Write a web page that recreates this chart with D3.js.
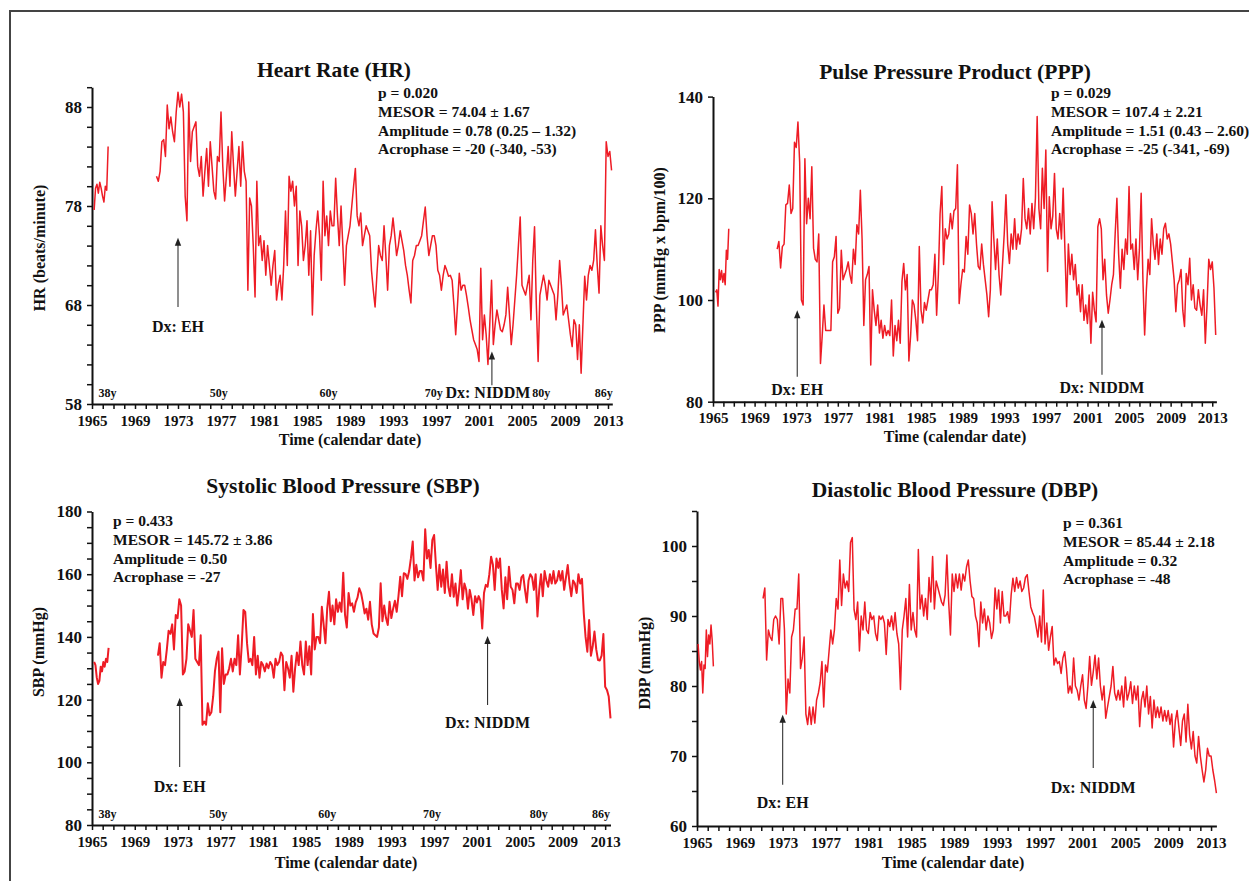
<!DOCTYPE html>
<html>
<head>
<meta charset="utf-8">
<script src="https://cdn.jsdelivr.net/npm/d3@7"></script>
<style>
  body { margin: 0; background: #fff; }
  svg text { font-family: "Liberation Serif", "Times New Roman", serif; font-weight: bold; fill: #111; }
</style>
</head>
<body>
<svg id="chart" width="1249" height="881"></svg>
<script>
// ---- data (roughly bimonthly) ----
const yearTicks = d3.range(1965, 2014);
const ageLabels = ["38y", "50y", "60y", "70y", "80y", "86y"];
const ageYears = [1965.6, 1976.8, 1987, 1996.8, 2006.8, 2012.6];

// heart rate, beats/minute (main series starts 1971.0, 6 per year)
const hrEarly = [77.6, 79.8, 80.2, 79.3, 80.4, 79.8, 79.0, 78.4, 80.0, 79.6, 84.0];
const hrMain = [
  81.0, 80.5, 81.5, 84.5, 84.7, 83.0,
  88.2, 85.8, 87.0, 85.5, 84.5, 87.5,
  89.5, 88.0, 89.3, 87.5, 79.0, 76.5,
  88.5, 82.5, 85.5, 86.0, 86.5, 82.0,
  81.0, 83.0, 79.0, 81.5, 83.8, 80.0,
  84.5, 82.0, 79.5, 78.7, 83.0, 82.5,
  87.5, 82.0, 78.5, 81.0, 84.0, 80.0,
  85.5, 82.0, 79.0, 81.5, 84.0, 80.0,
  84.5, 81.5, 80.5, 69.5, 78.8, 78.0,
  74.0, 68.8, 80.5, 74.0, 75.0, 72.5,
  74.5, 71.0, 74.0, 72.0, 70.0, 72.0,
  73.5, 68.5, 70.0, 71.0, 68.5, 72.0,
  77.5, 72.0, 81.0, 79.5, 80.5, 78.0,
  80.0, 72.0, 77.5, 76.0, 72.5, 74.0,
  76.5, 71.0, 75.5, 67.0, 73.0, 75.5,
  77.5, 75.0, 70.5, 80.5, 75.0, 77.0,
  74.0, 77.5, 76.0, 76.0, 80.8, 77.0,
  74.0, 78.0, 74.0, 70.0, 74.0, 75.0,
  76.0, 78.0, 80.0, 81.8, 77.0, 76.0,
  77.3, 74.0, 75.0, 76.0, 75.5, 75.0,
  71.5, 69.5, 67.8, 71.0, 74.0, 73.0,
  72.5, 76.0, 73.0, 69.5, 74.0, 75.0,
  76.8, 75.0, 73.0, 74.0, 75.5, 74.5,
  73.5, 72.0, 71.0, 69.5, 68.2, 72.5,
  73.0, 74.0, 74.0, 74.5, 75.0, 76.5,
  77.9, 75.0, 73.0, 74.0, 75.0, 75.0,
  74.0, 71.5, 71.0, 69.5, 71.0, 72.0,
  71.5, 70.9, 71.0, 70.5, 68.0, 65.0,
  68.0, 71.2, 69.5, 70.0, 70.0, 69.0,
  67.8, 66.5, 65.5, 64.5, 64.0, 63.5,
  62.3, 71.7, 64.5, 67.0, 65.0, 62.0,
  66.0, 70.5, 64.0, 66.0, 67.5, 66.5,
  65.5, 65.3, 66.0, 67.0, 69.8, 67.0,
  64.0, 66.0, 68.5, 71.0, 74.0, 76.9,
  70.0, 69.5, 69.0, 70.0, 71.0, 66.5,
  72.5, 75.9, 68.0, 62.3, 69.0, 70.0,
  71.0, 70.0, 68.5, 70.5, 70.0, 69.5,
  69.0, 66.5, 69.0, 72.5, 70.0, 67.0,
  67.5, 68.0, 66.5, 65.0, 63.8, 66.5,
  66.0, 62.5, 66.0, 61.1, 66.0, 70.9,
  68.5, 71.0, 72.0, 71.5, 72.5, 75.6,
  72.0, 69.2, 76.0, 74.0, 72.5, 84.5,
  83.0, 83.5, 81.6
];

// pulse pressure product, mmHg x bpm/100 (main series starts 1971.167)
const pppEarly = [101.5, 102.0, 98.8, 106.0, 104.0, 105.8, 103.5, 105.2, 103.0, 109.8, 108.0, 114.0];
const pppMain = [
  110.0, 111.5, 106.3, 110.5, 111.0,
  118.7, 119.0, 122.6, 117.0, 118.0, 131.0,
  130.0, 135.0, 127.0, 100.0, 99.0, 127.8,
  115.0, 120.0, 116.0, 126.2, 110.2, 108.0,
  107.5, 113.0, 87.5, 93.0, 99.0, 94.0,
  94.0, 94.0, 94.0, 107.5, 108.5, 112.5,
  97.4, 98.4, 109.8, 104.0, 105.0, 106.0,
  107.5, 105.0, 103.3, 110.0, 107.0, 114.8,
  113.0, 121.6, 112.0, 95.0, 104.0, 105.0,
  106.6, 87.2, 102.0, 98.0, 95.0, 99.0,
  93.5, 96.0, 92.5, 95.0, 93.0, 94.0,
  93.0, 100.0, 89.0, 95.0, 92.0, 96.0,
  91.5, 103.6, 107.2, 102.0, 105.0, 88.0,
  93.0, 100.0, 99.0, 96.0, 92.0, 110.5,
  98.0, 95.5, 99.5, 98.0, 100.0, 102.0,
  102.0, 103.0, 109.0, 97.0, 105.0, 117.0,
  122.3, 107.0, 114.0, 112.0, 113.0, 117.0,
  114.0, 117.5, 118.0, 126.6, 99.3, 103.0,
  106.0, 105.5, 112.5, 109.0, 118.7, 117.0,
  113.0, 117.0, 111.0, 106.6, 106.0, 111.0,
  107.0, 104.0, 101.0, 96.7, 102.0, 119.3,
  112.0, 106.0, 112.0, 105.0, 101.0, 107.0,
  113.0, 120.7, 111.0, 107.2, 113.0, 110.0,
  116.0, 110.0, 113.0, 111.0, 114.0, 123.9,
  116.0, 114.0, 118.0, 113.0, 119.0, 114.0,
  120.0, 136.1, 118.0, 114.0, 125.9, 118.0,
  129.5, 105.6, 120.3, 114.0, 116.5, 124.9,
  114.0, 112.0, 117.0, 112.0, 122.0, 110.0,
  98.7, 111.0, 105.0, 109.0, 104.0, 107.0,
  101.0, 103.0, 97.7, 103.0, 96.0, 99.0,
  95.4, 101.0, 91.5, 101.5, 98.0, 95.7,
  114.4, 116.0, 114.0, 104.0, 108.0, 101.0,
  97.4, 100.0, 103.0, 105.0, 113.0, 120.0,
  109.0, 102.3, 110.0, 106.0, 112.0, 109.0,
  122.3, 110.0, 111.0, 106.0, 112.0, 104.0,
  110.0, 121.0, 104.0, 93.1, 102.0, 108.0,
  105.0, 116.0, 111.0, 108.0, 113.0, 107.0,
  112.0, 109.0, 114.0, 115.1, 112.0, 113.0,
  111.0, 107.5, 104.0, 97.7, 103.0, 104.0,
  106.0, 98.0, 94.8, 105.2, 103.0, 108.2,
  100.0, 103.0, 98.4, 98.0, 102.0, 99.0,
  97.0, 102.0, 91.5, 99.0, 108.0, 106.0,
  107.5, 102.3, 93.1
];

// systolic blood pressure, mmHg (main series starts 1971.167)
const sbpEarly = [132.0, 131.0, 127.0, 125.0, 126.0, 130.5, 129.0, 132.0, 130.5, 133.0, 132.0, 136.5];
const sbpMain = [
  134.0, 138.0, 127.0, 132.0, 131.0,
  136.0, 142.0, 141.0, 144.0, 136.0, 147.0,
  146.0, 152.0, 150.0, 128.0, 129.0, 133.0,
  144.0, 142.0, 140.0, 148.6, 133.0, 132.0,
  131.0, 140.5, 112.0, 113.0, 112.0, 118.8,
  115.0, 116.0, 121.0, 129.0, 133.0, 135.3,
  116.0, 136.4, 125.0, 128.0, 128.0, 130.0,
  133.0, 129.0, 133.0, 131.0, 140.5, 128.0,
  137.0, 148.6, 148.0, 138.0, 132.0, 133.0,
  131.0, 140.0, 128.0, 134.0, 127.0, 132.0,
  131.0, 129.0, 131.5, 130.0, 132.0, 131.0,
  127.0, 133.0, 131.0, 132.0, 135.0, 134.0,
  123.0, 132.0, 130.0, 127.0, 134.0, 122.5,
  130.0, 135.0, 131.0, 138.5, 131.0, 128.0,
  138.5, 131.0, 137.0, 128.0, 147.3, 136.0,
  140.0, 140.0, 138.0, 149.6, 144.0, 138.0,
  149.0, 154.4, 145.0, 150.0, 144.0, 152.0,
  148.0, 151.0, 148.0, 160.5, 147.0, 143.0,
  154.0, 150.0, 150.7, 148.0, 151.0, 152.5,
  155.5, 154.0, 151.0, 147.5, 149.0, 145.5,
  151.2, 144.0, 141.1, 140.5, 140.0, 143.0,
  157.1, 145.0, 150.0, 146.0, 143.8, 151.2,
  146.0, 149.0, 151.5, 148.0, 153.0, 159.2,
  153.0, 160.3, 160.0, 158.5, 161.0, 165.1,
  170.4, 158.0, 163.0, 159.0, 161.0, 161.0,
  158.0, 174.3, 165.0, 167.7, 162.0, 170.9,
  172.5, 163.0, 155.0, 163.0, 156.0, 161.5,
  154.0, 164.0, 156.0, 153.0, 160.0, 152.8,
  157.0, 150.0, 155.0, 161.3, 152.0, 157.0,
  155.0, 149.0, 155.0, 152.0, 147.0, 153.0,
  151.0, 153.0, 151.5, 142.7, 154.0, 156.6,
  156.0, 160.0, 165.6, 163.0, 155.0, 165.0,
  162.0, 165.0, 155.0, 149.1, 159.0, 152.0,
  162.4, 156.0, 155.0, 150.7, 157.0, 157.0,
  155.0, 159.0, 159.7, 155.0, 151.0, 158.0,
  160.0, 159.0, 155.0, 160.0, 146.5, 155.0,
  160.0, 153.0, 161.0, 158.0, 156.0, 160.0,
  157.0, 161.0, 157.0, 158.0, 161.0, 158.0,
  161.0, 155.0, 159.0, 162.9, 157.0, 153.0,
  158.0, 157.0, 154.0, 160.0, 157.0, 158.5,
  147.5, 140.0, 135.3, 145.4, 134.0, 137.0,
  141.7, 136.0, 132.6, 132.5, 134.0, 140.9,
  124.1, 123.1, 121.0, 114.0
];

// diastolic blood pressure, mmHg (main series starts 1971.167)
const dbpEarly = [86.0, 83.5, 82.3, 83.5, 79.0, 83.0, 82.5, 88.0, 84.2, 87.3, 86.0, 88.7, 86.5, 82.8];
const dbpMain = [
  92.5, 94.0, 83.7, 88.0, 87.0,
  86.5, 89.5, 90.0, 89.5, 86.0, 92.5,
  92.5, 88.0, 76.0, 81.0, 79.0, 87.0,
  88.0, 91.0, 91.0, 96.0, 82.5, 84.0,
  87.0, 76.0, 74.5, 77.0, 74.5, 77.0,
  74.7, 78.0, 79.0, 80.5, 83.5, 77.0,
  83.0, 82.0, 85.0, 88.0, 86.0, 88.0,
  92.5, 91.0, 98.0, 91.5, 96.0, 94.0,
  95.0, 93.5, 100.5, 101.2, 90.9, 89.5,
  92.0, 85.0, 90.0, 88.0, 92.0, 88.0,
  87.5, 90.5, 89.5, 90.0, 87.5, 86.5,
  90.0, 89.5, 90.0, 89.0, 84.5, 89.5,
  88.5, 90.0, 88.0, 90.5, 87.5, 86.0,
  79.5, 88.0, 90.0, 92.5, 87.0, 94.5,
  88.0, 90.5, 88.0, 87.0, 99.5, 91.0,
  93.0, 90.0, 92.5, 89.5, 95.5, 92.0,
  98.5, 91.0, 95.0, 94.0, 93.0, 92.0,
  91.5, 93.0, 98.7, 92.0, 87.3, 96.0,
  93.5, 96.0, 94.0, 96.0, 93.7, 96.0,
  95.0, 97.0, 98.0, 95.0, 92.8, 92.5,
  90.0, 89.0, 85.6, 92.0, 89.0, 91.0,
  88.0, 90.0, 89.0, 86.8, 88.0, 94.0,
  91.0, 93.7, 89.0, 93.5, 90.0, 90.0,
  90.6, 89.0, 93.0, 95.4, 93.5, 95.5,
  94.0, 95.0, 93.5, 94.0, 95.5, 95.9,
  93.5, 91.3, 90.5, 89.9, 88.5, 87.0,
  90.0, 86.3, 93.7, 86.0, 89.0, 85.1,
  87.0, 88.5, 83.0, 84.0, 83.2, 83.5,
  81.8, 84.0, 84.9, 82.5, 79.0, 80.0,
  79.0, 84.0, 80.0, 79.4, 78.0, 80.0,
  81.6, 78.0, 76.8, 80.0, 84.2, 80.1,
  82.0, 84.4, 81.0, 84.0, 80.0, 78.0,
  80.0, 75.4, 77.0, 78.5, 80.0, 82.8,
  79.0, 78.0, 79.4, 78.0, 80.0, 77.0,
  81.3, 78.0, 79.0, 80.6, 77.5, 80.0,
  78.0, 80.0, 74.2, 78.0, 79.2, 77.0,
  80.0, 76.0, 78.5, 74.0, 78.0, 75.5,
  77.0, 75.5, 77.0, 75.0, 76.5, 75.0,
  76.5, 74.5, 76.0, 71.3, 75.0, 76.5,
  74.0, 71.5, 75.0, 76.0, 72.0, 77.4,
  73.0, 71.0, 73.5, 70.0, 69.0, 72.8,
  70.0, 68.0, 66.3, 68.0, 71.1, 70.0,
  70.0, 68.0, 66.5, 64.7
];

// ---- drawing ----
const svg = d3.select('#chart');
const red = '#ee1c25';

// outer frame
svg.append('path').attr('d', 'M10,881V11H1249').attr('fill', 'none')
  .attr('stroke', '#444').attr('stroke-width', 2);

function pts(start, step, vals) {
  return vals.map((v, i) => ({ t: start + i * step, v: v }));
}

const panels = [
  {
    title: 'Heart Rate (HR)', titleX: 334, titleY: 77,
    yTitle: 'HR (beats/minute)', yTitleX: 45, yTitleY: 248,
    xTitleX: 350, xTitleY: 445,
    x: [1965, 2013.4], xr: [92, 612.3], y: [58, 90], yr: [404, 87.2],
    major: 10, minor: 2,
    segments: [pts(1965.2, 0.13, hrEarly), pts(1971.0, 1 / 6, hrMain)], width: 1.5,
    stats: ['p = 0.020', 'MESOR = 74.04 \u00b1 1.67', 'Amplitude = 0.78 (0.25 \u2013 1.32)', 'Acrophase = -20 (-340, -53)'],
    statsX: 378, statsY: 98,
    notes: [{ label: 'Dx: EH', t: 1973.0, from: 67.8, to: 74.8, text: 65.3, dx: 0 },
            { label: 'Dx: NIDDM', t: 2002.2, from: 59.9, to: 63.3, text: 58.6, dx: -4 }],
    ages: true
  },
  {
    title: 'Pulse Pressure Product (PPP)', titleX: 955, titleY: 79,
    yTitle: 'PPP (mmHg x bpm/100)', yTitleX: 665, yTitleY: 250,
    xTitleX: 955, xTitleY: 442,
    x: [1965, 2013.4], xr: [713, 1216.4], y: [80, 140], yr: [401.7, 96.6],
    major: 20, minor: 20,
    segments: [pts(1965.25, 0.115, pppEarly), pts(1971.167, 1 / 6, pppMain)], width: 1.5,
    stats: ['p = 0.029', 'MESOR = 107.4 \u00b1 2.21', 'Amplitude = 1.51 (0.43 \u2013 2.60)', 'Acrophase = -25 (-341, -69)'],
    statsX: 1051, statsY: 98,
    notes: [{ label: 'Dx: EH', t: 1973.1, from: 84.9, to: 98.0, text: 81.3, dx: 0 },
            { label: 'Dx: NIDDM', t: 2002.4, from: 85.3, to: 96.1, text: 81.7, dx: 0 }],
    ages: false
  },
  {
    title: 'Systolic Blood Pressure (SBP)', titleX: 343, titleY: 493,
    yTitle: 'SBP (mmHg)', yTitleX: 44, yTitleY: 652,
    xTitleX: 346, xTitleY: 868,
    x: [1965, 2013.5], xr: [92, 610.5], y: [80, 180], yr: [825, 511.5],
    major: 20, minor: 5,
    segments: [pts(1965.2, 0.123, sbpEarly), pts(1971.167, 1 / 6, sbpMain)], width: 2,
    stats: ['p = 0.433', 'MESOR = 145.72 \u00b1 3.86', 'Amplitude = 0.50', 'Acrophase = -27'],
    statsX: 113, statsY: 526,
    notes: [{ label: 'Dx: EH', t: 1973.2, from: 98.5, to: 120.5, text: 90.5, dx: 0 },
            { label: 'Dx: NIDDM', t: 2002.0, from: 118.3, to: 140.3, text: 111, dx: 0 }],
    ages: true
  },
  {
    title: 'Diastolic Blood Pressure (DBP)', titleX: 955, titleY: 497,
    yTitle: 'DBP (mmHg)', yTitleX: 650, yTitleY: 663,
    xTitleX: 953, xTitleY: 868,
    x: [1965, 2013.5], xr: [697, 1216.4], y: [60, 105], yr: [826, 511],
    major: 10, minor: 5,
    segments: [pts(1965.1, 0.11, dbpEarly), pts(1971.167, 1 / 6, dbpMain)], width: 1.5,
    stats: ['p = 0.361', 'MESOR = 85.44 \u00b1 2.18', 'Amplitude = 0.32', 'Acrophase = -48'],
    statsX: 1063, statsY: 528,
    notes: [{ label: 'Dx: EH', t: 1973.0, from: 65.9, to: 75.9, text: 62.6, dx: 0 },
            { label: 'Dx: NIDDM', t: 2002.0, from: 68.3, to: 78.0, text: 64.7, dx: 0 }],
    ages: false
  }
];

function drawPanel(p) {
  const x = d3.scaleLinear().domain(p.x).range(p.xr);
  const y = d3.scaleLinear().domain(p.y).range(p.yr);
  const g = svg.append('g');

  // x axis: a tick every year, a label every fourth
  const xa = g.append('g').attr('transform', `translate(0,${p.yr[0]})`)
    .call(d3.axisBottom(x).tickValues(yearTicks).tickSize(5).tickSizeOuter(0).tickPadding(6)
      .tickFormat(d => (d - 1965) % 4 === 0 ? d : ''));
  // y axis
  const yTicks = d3.range(p.y[0], p.y[1] + 0.001, p.minor);
  const ya = g.append('g').attr('transform', `translate(${p.xr[0]},0)`)
    .call(d3.axisLeft(y).tickValues(yTicks).tickSize(5).tickSizeOuter(0).tickPadding(5)
      .tickFormat(d => (d - p.y[0]) % p.major === 0 ? d : ''));
  [xa, ya].forEach(a => {
    a.attr('font-family', null).attr('font-size', null);
    a.select('.domain').attr('stroke', '#111').attr('stroke-width', 2);
    a.selectAll('.tick line').attr('stroke', '#111').attr('stroke-width', 1.5);
  });
  xa.selectAll('.tick text').attr('font-size', 15).attr('fill', '#111');
  ya.selectAll('.tick text').attr('font-size', 17).attr('fill', '#111');

  // series
  const line = d3.line().x(d => x(d.t)).y(d => y(d.v));
  p.segments.forEach(seg => {
    g.append('path').datum(seg).attr('d', line).attr('fill', 'none')
      .attr('stroke', red).attr('stroke-width', p.width).attr('stroke-linejoin', 'round');
  });

  // titles
  g.append('text').attr('x', p.titleX).attr('y', p.titleY).attr('text-anchor', 'middle')
    .attr('font-size', 21.5).text(p.title);
  g.append('text').attr('x', p.xTitleX).attr('y', p.xTitleY).attr('text-anchor', 'middle')
    .attr('font-size', 16).text('Time (calendar date)');
  g.append('text').attr('transform', `translate(${p.yTitleX},${p.yTitleY}) rotate(-90)`)
    .attr('text-anchor', 'middle').attr('font-size', 16).text(p.yTitle);

  // statistics block
  g.append('g').selectAll('text').data(p.stats).join('text')
    .attr('x', p.statsX).attr('y', (d, i) => p.statsY + i * 18.8)
    .attr('font-size', 15.5).text(d => d);

  // diagnosis arrows
  p.notes.forEach(n => {
    const ax = x(n.t), top = y(n.to);
    g.append('line').attr('x1', ax).attr('x2', ax)
      .attr('y1', y(n.from)).attr('y2', top + 6)
      .attr('stroke', '#333').attr('stroke-width', 1.1);
    g.append('path').attr('d', `M${ax},${top}L${ax - 3.2},${top + 8}L${ax + 3.2},${top + 8}Z`)
      .attr('fill', '#222');
    g.append('text').attr('x', ax + n.dx).attr('y', y(n.text)).attr('text-anchor', 'middle')
      .attr('font-size', 16).text(n.label);
  });

  // age markers
  if (p.ages) {
    g.append('g').selectAll('text').data(ageLabels).join('text')
      .attr('x', (d, i) => x(ageYears[i]))
      .attr('y', p.yr[0] - 7)
      .attr('text-anchor', (d, i) => i === 0 ? 'start' : 'middle')
      .attr('font-size', 12).text(d => d);
  }
}

panels.forEach(drawPanel);
</script>
</body>
</html>
